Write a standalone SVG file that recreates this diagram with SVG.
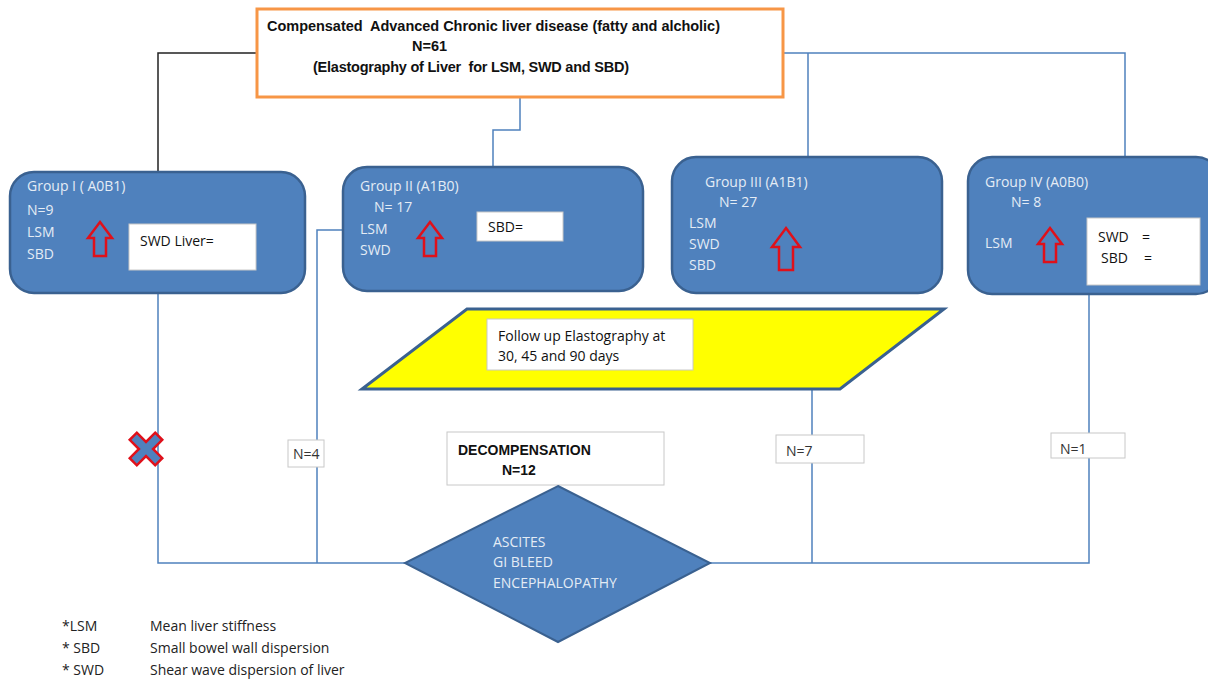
<svg xmlns="http://www.w3.org/2000/svg" width="1208" height="681" viewBox="0 0 1208 681">
<defs>
<style>
.grp{fill:#4F81BD;stroke:#3A6190;stroke-width:2.5}
.lt{font-family:"Open Sans","Liberation Sans",sans-serif;font-size:14px;fill:#E4ECF5}
.dk{font-family:"Open Sans","Liberation Sans",sans-serif;font-size:14px;fill:#111}
.bd{font-family:"Liberation Sans Narrow","Liberation Sans",sans-serif;font-size:14.5px;font-weight:bold;fill:#111;white-space:pre}
.bd2{font-family:"Liberation Sans",sans-serif;font-size:14px;font-weight:bold;fill:#111}
.wb{fill:#fff;stroke:#C8C8C8;stroke-width:1}
.arr{fill:#4F81BD;stroke:#E0101A;stroke-width:2.5;stroke-linejoin:miter}
.cn{fill:none;stroke:#4F81BD;stroke-width:1.5}
.lg{font-family:"Open Sans","Liberation Sans",sans-serif;font-size:14px;fill:#222}
</style>
</defs>
<rect width="1208" height="681" fill="#fff"/>
<g id="connectors">
<polyline class="cn" points="257,53 158,53 158,172" style="stroke:#222"/>
<polyline class="cn" points="520,97 520,130 493,130 493,167"/>
<polyline class="cn" points="783,53 1125,53 1125,157"/>
<line class="cn" x1="808" y1="53" x2="808" y2="157"/>
<polyline class="cn" points="158,293 158,563 405,563"/>
<polyline class="cn" points="343,230 317,230 317,563"/>
<polyline class="cn" points="812,389 812,563"/>
<polyline class="cn" points="1089,294 1089,563 710,563"/>
</g>
<g id="top">
<rect x="257" y="9" width="526" height="88" fill="#fff" stroke="#F79646" stroke-width="3"/>
<text class="bd" x="267" y="31" textLength="453" xml:space="preserve">Compensated  Advanced Chronic liver disease (fatty and alcholic)</text>
<text class="bd" x="412" y="51">N=61</text>
<text class="bd" x="313" y="72" textLength="316" xml:space="preserve">(Elastography of Liver  for LSM, SWD and SBD)</text>
</g>
<g id="group1">
<rect class="grp" x="10" y="172" width="295" height="121" rx="24"/>
<text class="lt" x="27" y="191">Group I ( A0B1)</text>
<text class="lt" x="27" y="215">N=9</text>
<text class="lt" x="27" y="237">LSM</text>
<text class="lt" x="27" y="259">SBD</text>
<path class="arr" d="M100,222 L112,238 L106,238 L106,256 L94,256 L94,238 L88,238 Z"/>
<rect class="wb" x="129" y="224" width="127" height="46"/>
<text class="dk" x="140" y="246">SWD Liver=</text>
</g>
<g id="group2">
<rect class="grp" x="343" y="167" width="300" height="124" rx="24"/>
<text class="lt" x="360" y="191">Group II (A1B0)</text>
<text class="lt" x="374" y="212">N= 17</text>
<text class="lt" x="360" y="234">LSM</text>
<text class="lt" x="360" y="255">SWD</text>
<path class="arr" d="M430,222 L442,238 L436,238 L436,256 L424,256 L424,238 L418,238 Z"/>
<rect class="wb" x="477" y="212" width="86" height="29"/>
<text class="dk" x="488" y="232">SBD=</text>
</g>
<g id="group3">
<rect class="grp" x="672" y="157" width="270" height="136" rx="24"/>
<text class="lt" x="705" y="187">Group III (A1B1)</text>
<text class="lt" x="719" y="207">N= 27</text>
<text class="lt" x="689" y="228">LSM</text>
<text class="lt" x="689" y="249">SWD</text>
<text class="lt" x="689" y="270">SBD</text>
<path class="arr" d="M786,228 L800,247 L793,247 L793,270 L779,270 L779,247 L772,247 Z"/>
</g>
<g id="group4">
<rect class="grp" x="968" y="157" width="252" height="137" rx="24"/>
<text class="lt" x="985" y="187">Group IV (A0B0)</text>
<text class="lt" x="1011" y="207">N= 8</text>
<text class="lt" x="985" y="248">LSM</text>
<path class="arr" d="M1050,228 L1062,244 L1056,244 L1056,262 L1044,262 L1044,244 L1038,244 Z"/>
<rect class="wb" x="1087" y="218" width="113" height="67"/>
<text class="dk" x="1098" y="242">SWD</text>
<text class="dk" x="1142" y="242">=</text>
<text class="dk" x="1101" y="263">SBD</text>
<text class="dk" x="1144" y="263">=</text>
</g>
<g id="followup">
<polygon points="467,309 944,309 840,389 362,389" fill="#FFFF00" stroke="#3A6190" stroke-width="3"/>
<rect class="wb" x="487" y="319" width="206" height="51"/>
<text class="dk" x="498" y="341">Follow up Elastography at</text>
<text class="dk" x="498" y="361">30, 45 and 90 days</text>
</g>
<g id="xmark">
<polygon transform="translate(146,449) rotate(45)" points="-5,-18 5,-18 5,-5 18,-5 18,5 5,5 5,18 -5,18 -5,5 -18,5 -18,-5 -5,-5" fill="#4F81BD" stroke="#E0101A" stroke-width="2.5"/>
</g>
<g id="n4">
<rect class="wb" x="288" y="440" width="36" height="27"/>
<text class="dk" x="293" y="459" style="fill:#333">N=4</text>
</g>
<g id="n7">
<rect class="wb" x="776" y="435" width="88" height="28"/>
<text class="dk" x="786" y="456" style="fill:#333">N=7</text>
</g>
<g id="n1">
<rect class="wb" x="1051" y="433" width="74" height="25"/>
<text class="dk" x="1060" y="454" style="fill:#333">N=1</text>
</g>
<g id="decomp">
<rect class="wb" x="447" y="432" width="217" height="53"/>
<text class="bd2" x="458" y="455">DECOMPENSATION</text>
<text class="bd2" x="502" y="475">N=12</text>
</g>
<g id="diamond">
<polygon points="558,486 710,563 558,642 405,563" fill="#4F81BD" stroke="#3A6190" stroke-width="2"/>
<text class="lt" x="493" y="547">ASCITES</text>
<text class="lt" x="493" y="567">GI BLEED</text>
<text class="lt" x="493" y="588">ENCEPHALOPATHY</text>
</g>
<g id="legend">
<text class="lg" x="62" y="631">*LSM</text>
<text class="lg" x="150" y="631">Mean liver stiffness</text>
<text class="lg" x="62" y="653">* SBD</text>
<text class="lg" x="150" y="653">Small bowel wall dispersion</text>
<text class="lg" x="62" y="675">* SWD</text>
<text class="lg" x="150" y="675">Shear wave dispersion of liver</text>
</g>
</svg>
